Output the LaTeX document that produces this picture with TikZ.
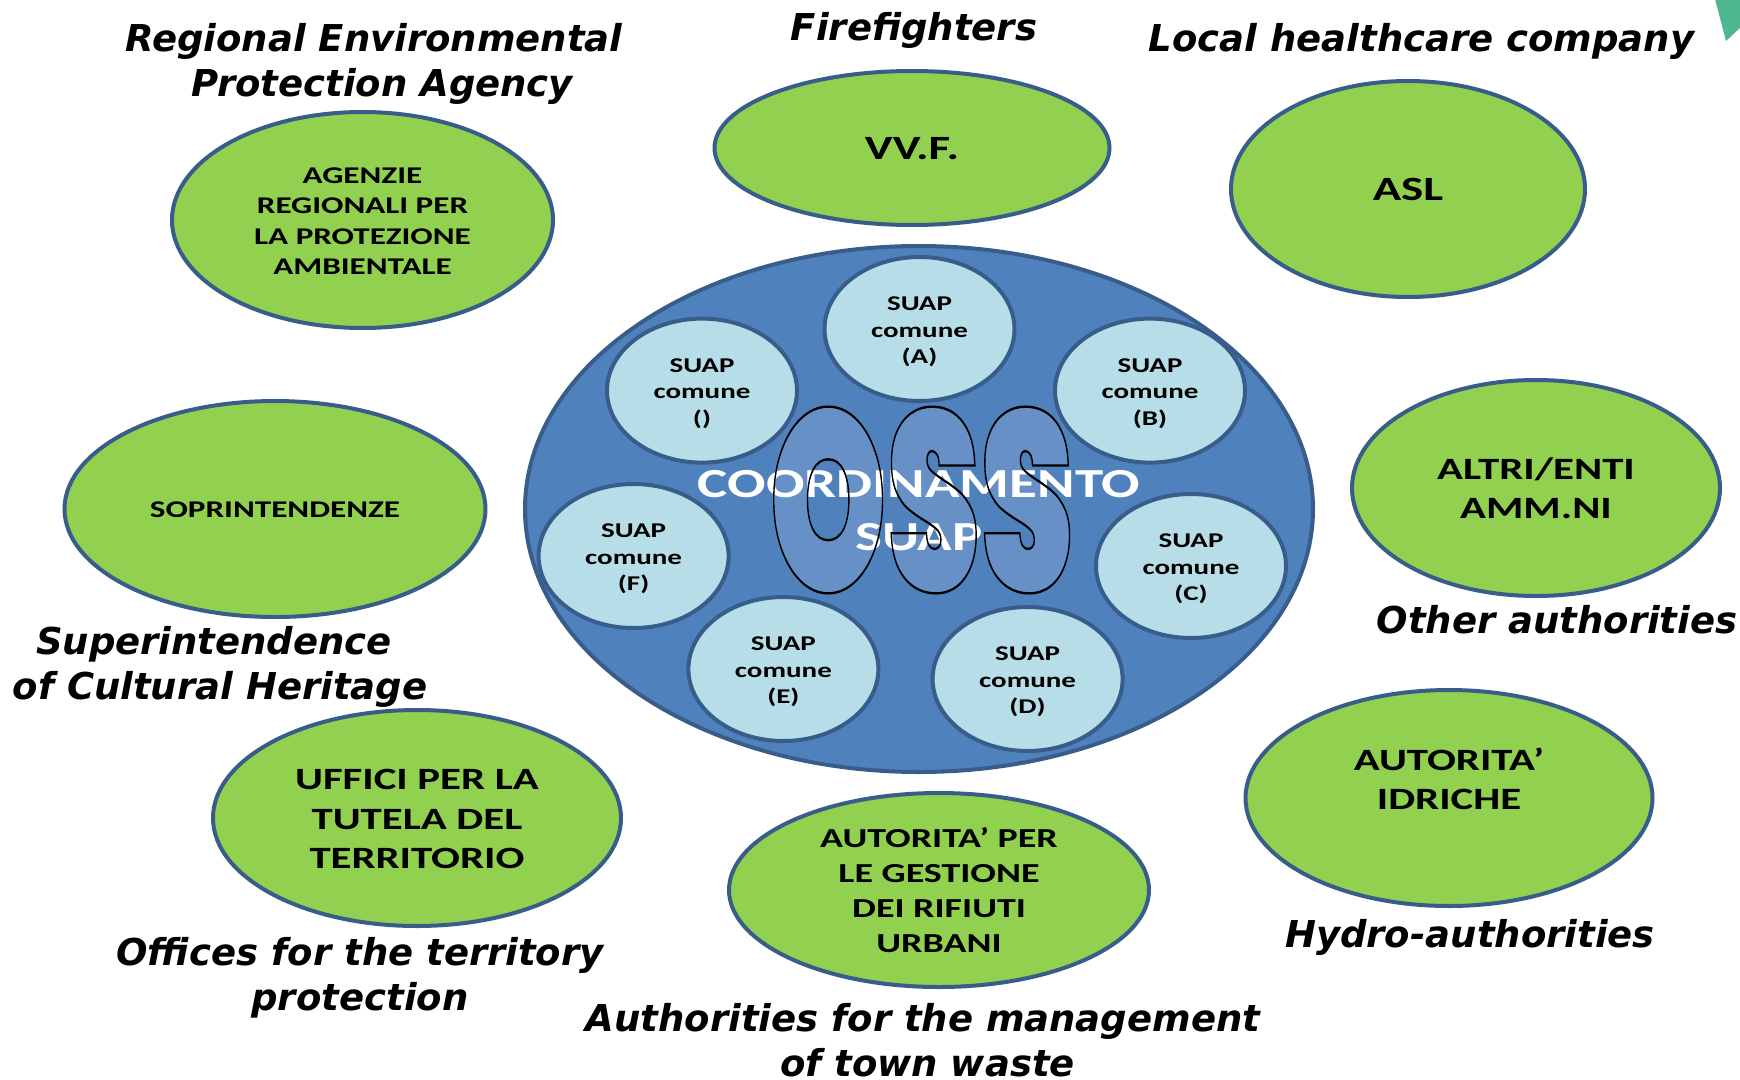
\documentclass[tikz,border=0pt]{standalone}
\usepackage{fontspec}
\usetikzlibrary{shapes.geometric}
\setmainfont{Carlito}[BoldFont={Carlito Bold},BoldFeatures={FakeStretch=1.38}]
\newfontfamily\capfont{DejaVu Sans Bold Oblique}
\newfontfamily\ossfont{Poppins Black}
\definecolor{grn}{HTML}{92D050}
\definecolor{edge}{HTML}{385D8A}
\definecolor{mainblue}{HTML}{4F81BD}
\definecolor{pale}{HTML}{B7DEE8}
\definecolor{ossblue}{HTML}{6690C6}
\definecolor{teal}{HTML}{4DB88E}
\newcommand{\ossword}{\scalebox{1.245}[2.14]{\fontsize{120}{120}\ossfont OSS}}
\newcommand{\su}{\rule{0pt}{19.6pt}}
\newcommand{\lift}[1]{\rule{0pt}{#1pt}}
\tikzset{
  agency/.style={ellipse,draw=edge,fill=grn,line width=4pt,inner sep=0pt,align=center,font=\bfseries},
  suap/.style={ellipse,draw=edge,fill=pale,line width=4pt,inner sep=0pt,align=center,minimum width=190pt,minimum height=144pt,font=\fontsize{21}{26.5}\selectfont\bfseries},
  caption/.style={inner sep=0pt,align=center,font=\fontsize{37}{45}\selectfont\capfont}
}
\begin{document}
\begin{tikzpicture}[x=1pt,y=-1pt]
\useasboundingbox (0,0) rectangle (1740,1079);
\fill[teal] (1715,-1) -- (1726,41) -- (1741,27) -- (1741,-1) -- cycle;
\node[ellipse,draw=edge,fill=mainblue,line width=4pt,minimum width=788pt,minimum height=526pt,inner sep=0pt] (oss) at (919,509) {};
\node[suap] (a) at (919.5,329) {\su SUAP\\comune\\(A)};
\node[suap] (n) at (702,390.6) {\su SUAP\\comune\\()};
\node[suap] (b) at (1150,390.6) {\su SUAP\\comune\\(B)};
\node[suap] (f) at (633.6,556) {\su SUAP\\comune\\(F)};
\node[suap] (c) at (1191,566) {\su SUAP\\comune\\(C)};
\node[suap] (e) at (783.4,669) {\su SUAP\\comune\\(E)};
\node[suap] (d) at (1027.6,679) {\su SUAP\\comune\\(D)};
\node[text=ossblue,inner sep=0pt] (ossfill) at (921.5,500) {\ossword};
\node[text=white,inner sep=0pt,align=center,font=\fontsize{41.3}{53}\selectfont\bfseries] (coord) at (919,511) {COORDINAMENTO\\SUAP};
\node[inner sep=0pt] (ossline) at (921.5,500) {\special{pdf:code 1 Tr 1.1 w 0 0 0 RG}\ossword\special{pdf:code 0 Tr}};
\node[agency,minimum width=381pt,minimum height=216pt,font=\fontsize{24}{30.5}\selectfont\bfseries] (agenzie) at (362.5,220) {\lift{18}AGENZIE\\REGIONALI PER\\LA PROTEZIONE\\AMBIENTALE};
\node[agency,minimum width=395pt,minimum height=154pt,font=\fontsize{34}{40}\selectfont\bfseries] (vvf) at (912,148) {\lift{24.2}VV.F.};
\node[agency,minimum width=354pt,minimum height=216pt,font=\fontsize{34}{40}\selectfont\bfseries] (asl) at (1408,189) {\lift{24.2}ASL};
\node[agency,minimum width=368pt,minimum height=216pt,font=\fontsize{31}{39}\selectfont\bfseries] (altri) at (1536,488) {\lift{22.5}ALTRI/ENTI\\AMM.NI};
\node[agency,minimum width=407pt,minimum height=216pt,font=\fontsize{31}{39}\selectfont\bfseries] (idriche) at (1449,798) {AUTORITA’\\IDRICHE\\\mbox{}};
\node[agency,minimum width=420pt,minimum height=194pt,font=\fontsize{27.5}{35}\selectfont\bfseries] (rifiuti) at (939,890) {AUTORITA’ PER\\LE GESTIONE\\DEI RIFIUTI\\URBANI};
\node[agency,minimum width=408pt,minimum height=216pt,font=\fontsize{31}{39.5}\selectfont\bfseries] (uffici) at (417,818) {\lift{23}UFFICI PER LA\\TUTELA DEL\\TERRITORIO};
\node[agency,minimum width=421pt,minimum height=216pt,font=\fontsize{24}{30}\selectfont\bfseries] (sopr) at (275,509) {\lift{18}SOPRINTENDENZE};
\node[caption] (c1) at (375,63.5) {\hspace*{-2pt}Regional Environmental\\\hspace*{14pt}Protection Agency};
\node[caption] (c2) at (914,30) {Firefighters};
\node[caption] (c3) at (1421.6,41) {Local healthcare company};
\node[caption] (c4) at (1557,620) {Other authorities};
\node[caption] (c5) at (1470,937) {Hydro-authorities};
\node[caption] (c6) at (923,1040) {Authorities for the management\\\hspace*{9pt}of town waste};
\node[caption] (c7) at (360,977.5) {Offices for the territory\\protection};
\node[caption] (c8) at (217,666.5) {\hspace*{-6pt}Superintendence\\\hspace*{6pt}of Cultural Heritage};
\end{tikzpicture}
\end{document}
